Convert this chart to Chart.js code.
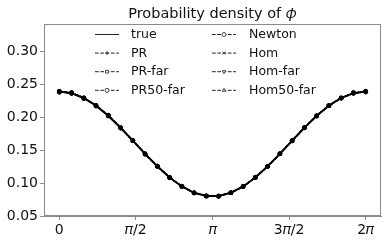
<!DOCTYPE html>
<html>
<head>
<meta charset="utf-8">
<script src="https://cdn.jsdelivr.net/npm/chart.js@4/dist/chart.umd.min.js"></script>
<style>
  html, body { margin: 0; padding: 0; background: #fff; }
  canvas { display: block; }
</style>
</head>
<body>
<canvas id="densityChart" width="390" height="244"></canvas>
<script>
// Точки по оси X (phi), 26 узлов на [0, 2π]
const phiValues = [0, 0.2513, 0.5027, 0.7540, 1.0053, 1.2566, 1.5080, 1.7593, 2.0106, 2.2619, 2.5133, 2.7646, 3.0159,
  3.2673, 3.5186, 3.7699, 4.0212, 4.2726, 4.5239, 4.7752, 5.0265, 5.2779, 5.5292, 5.7805, 6.0319, 6.2832];

// Значения плотности
const trueValues = [0.2387, 0.2362, 0.2289, 0.2172, 0.2018, 0.1837, 0.1642, 0.1442, 0.1253, 0.1084, 0.0948, 0.0852, 0.0802,
  0.0802, 0.0852, 0.0948, 0.1084, 0.1253, 0.1442, 0.1642, 0.1837, 0.2018, 0.2172, 0.2289, 0.2362, 0.2387];
const prValues = [0.2380, 0.2368, 0.2296, 0.2165, 0.2024, 0.1830, 0.1648, 0.1436, 0.1258, 0.1079, 0.0952, 0.0848, 0.0806,
  0.0798, 0.0856, 0.0944, 0.1088, 0.1249, 0.1446, 0.1638, 0.1841, 0.2014, 0.2176, 0.2285, 0.2366, 0.2383];
const prFarValues = [0.2392, 0.2356, 0.2284, 0.2178, 0.2012, 0.1843, 0.1637, 0.1447, 0.1249, 0.1089, 0.0944, 0.0856, 0.0798,
  0.0806, 0.0848, 0.0952, 0.1080, 0.1257, 0.1438, 0.1646, 0.1833, 0.2022, 0.2168, 0.2293, 0.2358, 0.2391];
const pr50FarValues = [0.2376, 0.2371, 0.2280, 0.2169, 0.2027, 0.1834, 0.1645, 0.1439, 0.1256, 0.1082, 0.0950, 0.0850, 0.0804,
  0.0800, 0.0854, 0.0946, 0.1086, 0.1251, 0.1444, 0.1640, 0.1839, 0.2016, 0.2174, 0.2287, 0.2370, 0.2379];
const newtonValues = [0.2389, 0.2360, 0.2291, 0.2170, 0.2020, 0.1835, 0.1644, 0.1440, 0.1255, 0.1082, 0.0950, 0.0850, 0.0804,
  0.0800, 0.0854, 0.0946, 0.1086, 0.1251, 0.1444, 0.1640, 0.1839, 0.2016, 0.2174, 0.2287, 0.2360, 0.2389];
const homValues = [0.2384, 0.2365, 0.2287, 0.2175, 0.2015, 0.1840, 0.1639, 0.1445, 0.1250, 0.1087, 0.0946, 0.0854, 0.0800,
  0.0804, 0.0850, 0.0950, 0.1082, 0.1255, 0.1440, 0.1644, 0.1835, 0.2020, 0.2170, 0.2291, 0.2364, 0.2385];
const homFarValues = [0.2395, 0.2358, 0.2293, 0.2168, 0.2022, 0.1832, 0.1646, 0.1438, 0.1257, 0.1080, 0.0952, 0.0848, 0.0806,
  0.0798, 0.0856, 0.0944, 0.1088, 0.1249, 0.1446, 0.1638, 0.1841, 0.2014, 0.2176, 0.2285, 0.2357, 0.2394];
const hom50FarValues = [0.2382, 0.2366, 0.2286, 0.2174, 0.2016, 0.1839, 0.1640, 0.1444, 0.1251, 0.1086, 0.0947, 0.0853, 0.0801,
  0.0803, 0.0851, 0.0949, 0.1083, 0.1254, 0.1441, 0.1643, 0.1836, 0.2019, 0.2171, 0.2290, 0.2365, 0.2384];

// Деления осей
const xTickValues = [0, 1.5708, 3.1416, 4.7124, 6.2832];
const xTickLabels = ['0', '𝜋/2', '𝜋', '3𝜋/2', '2𝜋'];
const yTickValues = [0.05, 0.10, 0.15, 0.20, 0.25, 0.30];

const seriesNames = ['true', 'PR', 'PR-far', 'PR50-far', 'Newton', 'Hom', 'Hom-far', 'Hom50-far'];
const seriesValues = [trueValues, prValues, prFarValues, pr50FarValues, newtonValues, homValues, homFarValues, hom50FarValues];
// маркеры в духе matplotlib: '', '+', 's', 'o', 'o', 'x', 'v', '^'
const seriesMarkers = [
  { style: false, rot: 0 },
  { style: 'cross', rot: 0 },
  { style: 'rect', rot: 0 },
  { style: 'circle', rot: 0 },
  { style: 'circle', rot: 0 },
  { style: 'crossRot', rot: 0 },
  { style: 'triangle', rot: 180 },
  { style: 'triangle', rot: 0 }
];

const FONT = 'DejaVu Sans';
const DASH = [3.7, 1.6];

const datasets = seriesNames.map((name, i) => ({
  label: name,
  data: phiValues.map((x, k) => ({ x: x, y: seriesValues[i][k] })),
  borderColor: '#000',
  backgroundColor: '#000',
  borderWidth: i === 0 ? 2 : 1.2,
  borderDash: i === 0 ? [] : DASH,
  tension: 0,
  pointStyle: seriesMarkers[i].style,
  pointRotation: seriesMarkers[i].rot,
  pointRadius: i === 0 ? 0 : 2,
  pointBorderWidth: 1,
  pointBorderColor: '#000',
  pointBackgroundColor: '#000'
}));

// Рамка, заголовок и легенда в стиле matplotlib
const mplPlugin = {
  id: 'mplExtras',
  afterDraw(chart) {
    const ctx = chart.ctx;
    const a = chart.chartArea;
    ctx.save();
    // рамка вокруг области графика
    ctx.strokeStyle = '#8a8a8a';
    ctx.lineWidth = 1;
    ctx.strokeRect(a.left + 0.5, a.top + 0.5, a.right - a.left - 1, a.bottom - a.top - 1);

    // заголовок по центру осей
    ctx.fillStyle = '#111';
    ctx.font = '14.5px "' + FONT + '"';
    ctx.textAlign = 'center';
    ctx.textBaseline = 'alphabetic';
    ctx.fillText('Probability density of 𝜙', (a.left + a.right) / 2, 18);

    // легенда: две колонки по четыре строки
    const cols = [{ x0: 95, x1: 119, tx: 131 }, { x0: 212, x1: 236, tx: 249 }];
    ctx.font = '12.5px "' + FONT + '"';
    ctx.textAlign = 'left';
    ctx.textBaseline = 'middle';
    chart.data.datasets.forEach((ds, i) => {
      const c = cols[i < 4 ? 0 : 1];
      const y = 34.5 + (i % 4) * 18.6;
      ctx.strokeStyle = '#222';
      ctx.lineWidth = 1;
      ctx.setLineDash(ds.borderDash);
      ctx.beginPath();
      ctx.moveTo(c.x0, y);
      ctx.lineTo(c.x1, y);
      ctx.stroke();
      ctx.setLineDash([]);
      if (ds.pointStyle) {
        ctx.fillStyle = '#fff';
        ctx.strokeStyle = '#444';
        Chart.helpers.drawPoint(ctx, {
          pointStyle: ds.pointStyle,
          rotation: ds.pointRotation,
          radius: 2,
          borderWidth: 0.8
        }, (c.x0 + c.x1) / 2, y);
      }
      ctx.fillStyle = '#111';
      ctx.fillText(ds.label, c.tx, y + 0.5);
    });
    ctx.restore();
  }
};

const densityChart = new Chart(document.getElementById('densityChart'), {
  type: 'line',
  data: { datasets },
  plugins: [mplPlugin],
  options: {
    responsive: false,
    animation: false,
    devicePixelRatio: 1,
    layout: { padding: { top: 24, right: 9, left: 0, bottom: 0 } },
    plugins: {
      legend: { display: false },
      title: { display: false },
      tooltip: { enabled: false }
    },
    scales: {
      x: {
        type: 'linear',
        min: -0.31416,
        max: 6.5973,
        afterBuildTicks: s => { s.ticks = xTickValues.map(v => ({ value: v })); },
        afterFit: s => { s.height = 28; },
        grid: { drawOnChartArea: false, drawTicks: true, tickLength: 4, color: '#8a8a8a' },
        border: { color: '#8a8a8a' },
        ticks: {
          autoSkip: false,
          maxRotation: 0,
          padding: 2,
          color: '#111',
          font: { family: FONT, size: 14 },
          callback: (v, i) => xTickLabels[i]
        }
      },
      y: {
        min: 0.05,
        max: 0.341,
        afterBuildTicks: s => { s.ticks = yTickValues.map(v => ({ value: v })); },
        afterFit: s => { s.width = 44; },
        grid: { drawOnChartArea: false, drawTicks: true, tickLength: 4, color: '#8a8a8a' },
        border: { color: '#8a8a8a' },
        ticks: {
          padding: 2,
          color: '#111',
          font: { family: FONT, size: 14 },
          callback: v => v.toFixed(2)
        }
      }
    }
  }
});
</script>
</body>
</html>
